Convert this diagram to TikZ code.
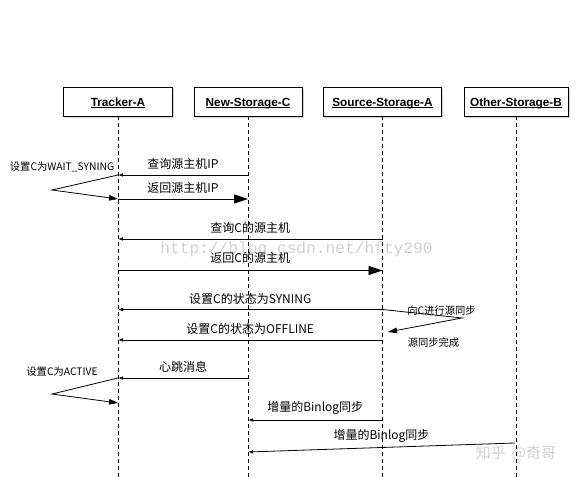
\documentclass[tikz,border=0pt]{standalone}
\usepackage{fontspec}
\setmainfont{Liberation Sans}
\newfontfamily\cjk{Noto Sans CJK SC}
\newfontfamily\wmono{Liberation Mono}
\usetikzlibrary{arrows.meta,shadows}
\begin{document}
\begin{tikzpicture}[x=1pt,y=-1pt,
 actor/.style={draw=black, line width=0.8pt, fill=white, minimum height=29pt,
   inner sep=0pt, text height=10.5pt, text depth=1pt,
   font=\fontsize{11.8}{13}\selectfont\bfseries,
   drop shadow={shadow xshift=1.8pt, shadow yshift=-1.8pt, fill=black!25, opacity=0.7}},
 life/.style={line width=0.8pt, dash pattern=on 4pt off 3pt},
 req/.style={line width=0.8pt, -{Latex[length=5pt,width=3.5pt]}},
 ret/.style={line width=0.8pt, -{Triangle[length=14pt,width=9pt]}},
 selfmsg/.style={line width=0.8pt, -{Triangle[length=9pt,width=5.5pt]}},
 lbl/.style={font=\cjk\fontsize{12}{14}\selectfont, inner sep=1.5pt, above=3.5pt},
 note/.style={font=\cjk\fontsize{10.3}{12}\selectfont, inner sep=0pt},
 wm/.style={text=black!18, inner sep=0pt},
]
\useasboundingbox (0,0) rectangle (576,478);
\fill[white] (0,0) rectangle (576,478);

% watermarks
\node[wm, font=\wmono\fontsize{16.2}{18}\selectfont] (wm1) at (296.5,249.5) {http://blog.csdn.net/hfty290};
\node[wm, font=\cjk\fontsize{15}{17}\selectfont] (wm2) at (516,453) {知乎\hspace{6pt}@奇哥};

% participants
\node[actor, minimum width=109pt] (trk) at (118,101.5) {\underline{\smash{Tracker-A}}};
\node[actor, minimum width=108pt] (nsc) at (248,101.5) {\underline{\smash{New-Storage-C}}};
\node[actor, minimum width=118pt] (ssa) at (382.5,101.5) {\underline{\smash{Source-Storage-A}}};
\node[actor, minimum width=104pt] (osb) at (516,101.5) {\underline{\smash{Other-Storage-B}}};

% lifelines
\coordinate (trkB) at (118,478);
\coordinate (nscB) at (248,478);
\coordinate (ssaB) at (382.5,478);
\coordinate (osbB) at (516,478);
\draw[life] (trk) -- (trkB);
\draw[life] (nsc) -- (nscB);
\draw[life] (ssa) -- (ssaB);
\draw[life] (osb) -- (osbB);

% message points
\coordinate (c1) at (248,175);   \coordinate (t1) at (118,175);
\coordinate (a1) at (52,190);
\coordinate (t2) at (118,199);   \coordinate (c2) at (248,199);
\coordinate (s3) at (382.5,239); \coordinate (t3) at (118,239);
\coordinate (t4) at (118,270.5); \coordinate (s4) at (382.5,270.5);
\coordinate (s5) at (382.5,309.5); \coordinate (t5) at (118,309.5);
\coordinate (a5) at (462,318);   \coordinate (s5e) at (388,332);
\coordinate (s6) at (382.5,340); \coordinate (t6) at (118,340);
\coordinate (c7) at (248,378);   \coordinate (t7) at (118,378);
\coordinate (a7) at (52,394);    \coordinate (t7e) at (118,403);
\coordinate (s8) at (382.5,420); \coordinate (c8) at (248,420);
\coordinate (o9) at (515,443);   \coordinate (c9) at (248,452);

% messages
\draw[req] (c1) -- node[lbl] {查询源主机IP} (t1);
\draw[selfmsg] (t1) -- (a1) -- (t2);
\node[note] (n1) at (62,167) {设置C为WAIT\_SYNING};
\draw[ret] (t2) -- node[lbl] {返回源主机IP} (c2);

\draw[req] (s3) -- node[lbl] {查询C的源主机} (t3);
\draw[ret] (t4) -- node[lbl, above=2pt] {返回C的源主机} (s4);

\draw[req] (s5) -- node[lbl] {设置C的状态为SYNING} (t5);
\draw[selfmsg] (s5) -- (a5) -- (s5e);
\node[note] (n2) at (441.5,311) {向C进行源同步};
\node[note] (n3) at (433.5,343) {源同步完成};
\draw[req] (s6) -- node[lbl] {设置C的状态为OFFLINE} (t6);

\draw[req] (c7) -- node[lbl] {心跳消息} (t7);
\draw[selfmsg] (t7) -- (a7) -- (t7e);
\node[note] (n4) at (62,372) {设置C为ACTIVE};

\draw[req] (s8) -- node[lbl] {增量的Binlog同步} (c8);
\draw[req] (o9) -- node[lbl] {增量的Binlog同步} (c9);
\end{tikzpicture}
\end{document}
